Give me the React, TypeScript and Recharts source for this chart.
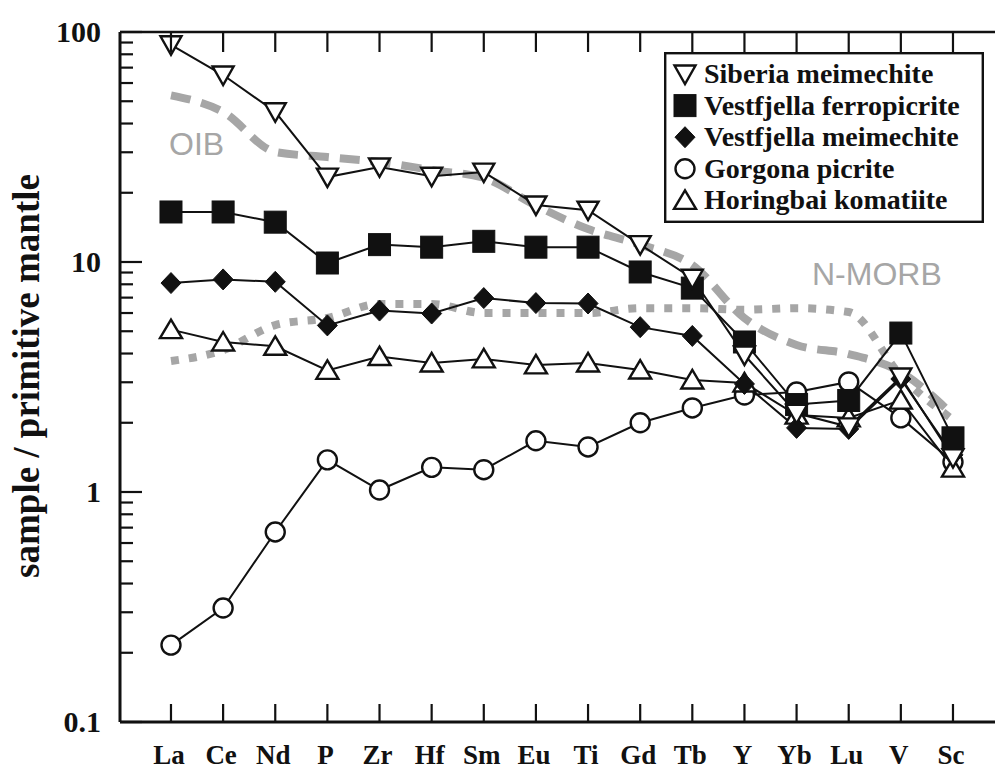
import React from 'react';
import { LineChart, Line, XAxis, YAxis, Legend } from 'recharts';

const elements = ['La', 'Ce', 'Nd', 'P', 'Zr', 'Hf', 'Sm', 'Eu', 'Ti', 'Gd', 'Tb', 'Y', 'Yb', 'Lu', 'V', 'Sc'];

const siberiaMeimechite = [88, 65, 45, 23.4, 25.9, 23.6, 24.6, 17.7, 16.8, 11.9, 8.5, 3.94, 2.2, 1.92, 3.16, 1.41];
const vestfjellaFerropicrite = [16.5, 16.5, 14.9, 9.9, 11.9, 11.6, 12.3, 11.6, 11.6, 9.05, 7.7, 4.49, 2.4, 2.5, 4.91, 1.72];
const vestfjellaMeimechite = [8.1, 8.4, 8.2, 5.3, 6.15, 5.97, 6.97, 6.63, 6.6, 5.21, 4.77, 2.95, 1.9, 1.88, 3.1, 1.45];
const gorgonaPicrite = [0.216, 0.313, 0.67, 1.38, 1.02, 1.28, 1.25, 1.67, 1.57, 2.0, 2.32, 2.64, 2.72, 3.01, 2.1, 1.35];
const horingbaiKomatiite = [5.08, 4.49, 4.3, 3.38, 3.88, 3.64, 3.79, 3.57, 3.64, 3.39, 3.07, 2.98, 2.16, 2.1, 2.51, 1.27];
const oib = [53, 44.9, 30.1, 28.6, 27.2, 25.1, 23.2, 17.6, 13.9, 11.9, 9.7, 5.7, 4.36, 3.98, 3.32, 2.16];
const nMorb = [3.71, 4.14, 5.32, 5.71, 6.57, 6.57, 6.0, 6.0, 6.0, 6.3, 6.3, 6.2, 6.3, 6.06, 3.2, 2.06];

const yMajorTicks = [0.1, 1, 10, 100];
const yMajorLabels = ['0.1', '1', '10', '100'];
const yAllTicks = [
  0.1, 0.2, 0.3, 0.4, 0.5, 0.6, 0.7, 0.8, 0.9,
  1, 2, 3, 4, 5, 6, 7, 8, 9,
  10, 20, 30, 40, 50, 60, 70, 80, 90, 100,
];
const xTicks = elements.map((_, i) => i);

const legendNames = [
  'Siberia meimechite',
  'Vestfjella ferropicrite',
  'Vestfjella meimechite',
  'Gorgona picrite',
  'Horingbai komatiite',
];
const legendShapes = ['down', 'square', 'diamond', 'circle', 'up'];

const data = elements.map((el, i) => ({
  idx: i,
  el,
  siberia: siberiaMeimechite[i],
  ferro: vestfjellaFerropicrite[i],
  meim: vestfjellaMeimechite[i],
  gorgona: gorgonaPicrite[i],
  horingbai: horingbaiKomatiite[i],
  oib: oib[i],
  nmorb: nMorb[i],
}));

const INK = '#111';
const GREY = '#a6a6a6';
const SERIF = '"Liberation Serif", "Times New Roman", serif';
const SANS = '"Liberation Sans", Arial, sans-serif';

function Marker({ shape, cx, cy }: { shape: string; cx: number; cy: number }) {
  if (shape === 'down') {
    return (
      <polygon
        points={`${cx - 10.5},${cy - 8.5} ${cx + 10.5},${cy - 8.5} ${cx},${cy + 10}`}
        fill="#fff"
        stroke={INK}
        strokeWidth={2.4}
        strokeLinejoin="miter"
      />
    );
  }
  if (shape === 'up') {
    return (
      <polygon
        points={`${cx - 11},${cy + 8.5} ${cx + 11},${cy + 8.5} ${cx},${cy - 10}`}
        fill="#fff"
        stroke={INK}
        strokeWidth={2.4}
      />
    );
  }
  if (shape === 'square') {
    return <rect x={cx - 11} y={cy - 11} width={22} height={22} fill={INK} stroke={INK} strokeWidth={1} />;
  }
  if (shape === 'diamond') {
    return (
      <polygon
        points={`${cx},${cy - 10.5} ${cx + 10},${cy} ${cx},${cy + 10.5} ${cx - 10},${cy}`}
        fill={INK}
        stroke={INK}
        strokeWidth={1}
      />
    );
  }
  return <circle cx={cx} cy={cy} r={9.5} fill="#fff" stroke={INK} strokeWidth={2.4} />;
}

const makeDot = (shape: string) => (props: any) => {
  const { cx, cy, index } = props;
  if (cx == null || cy == null) return <g key={`${shape}-${index}`} />;
  return (
    <g key={`${shape}-${index}`}>
      <Marker shape={shape} cx={cx} cy={cy} />
    </g>
  );
};

const BottomTick = (props: any) => {
  const { x, y, payload } = props;
  return (
    <g>
      <line x1={x} x2={x} y1={y} y2={y - 18} stroke={INK} strokeWidth={2.2} />
      <text
        x={x - 2}
        y={y + 42}
        textAnchor="middle"
        fontFamily={SERIF}
        fontWeight="bold"
        fontSize={27}
        fill={INK}
      >
        {elements[payload.value]}
      </text>
    </g>
  );
};

const TopTick = (props: any) => {
  const { x, y } = props;
  return <line x1={x} x2={x} y1={y} y2={y + 20} stroke={INK} strokeWidth={2.2} />;
};

const LeftTick = (props: any) => {
  const { x, y, payload } = props;
  const mi = yMajorTicks.findIndex((v) => Math.abs(v - payload.value) < 1e-9);
  const major = mi >= 0;
  return (
    <g>
      <line x1={x} x2={x + (major ? 22 : 13)} y1={y} y2={y} stroke={INK} strokeWidth={2.2} />
      {major && (
        <text
          x={101}
          y={y + 10}
          textAnchor="end"
          fontFamily={SERIF}
          fontWeight="bold"
          fontSize={30}
          fill={INK}
        >
          {yMajorLabels[mi]}
        </text>
      )}
    </g>
  );
};

const RightTick = (props: any) => {
  const { x, y, payload } = props;
  const major = yMajorTicks.some((v) => Math.abs(v - payload.value) < 1e-9);
  return <line x1={x - (major ? 12 : 4)} x2={x} y1={y} y2={y} stroke={INK} strokeWidth={2.2} />;
};

const renderLegend = () => (
  <svg width={320} height={171} style={{ display: 'block', overflow: 'visible' }}>
    <rect x={1.2} y={1.2} width={317.6} height={168.6} fill="#fff" stroke={INK} strokeWidth={2.4} />
    {legendNames.map((name, i) => {
      const cy = 22 + i * 31.6;
      return (
        <g key={name}>
          <Marker shape={legendShapes[i]} cx={21} cy={cy} />
          <text x={40} y={cy + 9} fontFamily={SERIF} fontWeight="bold" fontSize={28} fill={INK}>
            {name}
          </text>
        </g>
      );
    })}
  </svg>
);

const X_DOMAIN: [number, number] = [-0.978, 15.806];

export default function App() {
  return (
    <div style={{ position: 'absolute', left: 0, top: 0, width: 995, height: 771, background: '#fff' }}>
      <LineChart
        width={995}
        height={771}
        data={data}
        margin={{ top: 2, right: 0, bottom: 0, left: 0 }}
        style={{ background: '#fff' }}
      >
        <XAxis
          xAxisId="bottom"
          dataKey="idx"
          type="number"
          domain={X_DOMAIN}
          ticks={xTicks}
          interval={0}
          allowDataOverflow
          height={49}
          tickSize={0}
          tickMargin={0}
          tickLine={false}
          axisLine={{ stroke: INK, strokeWidth: 3 }}
          tick={BottomTick}
        />
        <XAxis
          xAxisId="top"
          orientation="top"
          dataKey="idx"
          type="number"
          domain={X_DOMAIN}
          ticks={xTicks}
          interval={0}
          allowDataOverflow
          height={30}
          tickSize={0}
          tickMargin={0}
          tickLine={false}
          axisLine={{ stroke: INK, strokeWidth: 2.6 }}
          tick={TopTick}
        />
        <YAxis
          yAxisId="left"
          scale="log"
          domain={[0.1, 100]}
          allowDataOverflow
          ticks={yAllTicks}
          interval={0}
          width={120}
          tickSize={0}
          tickMargin={0}
          tickLine={false}
          axisLine={{ stroke: INK, strokeWidth: 3 }}
          tick={LeftTick}
        />
        <YAxis
          yAxisId="right"
          orientation="right"
          scale="log"
          domain={[0.1, 100]}
          allowDataOverflow
          ticks={yAllTicks}
          interval={0}
          width={0}
          tickSize={0}
          tickMargin={0}
          tickLine={false}
          axisLine={false}
          tick={RightTick}
        />
        <Legend
          layout="vertical"
          align="center"
          verticalAlign="middle"
          content={renderLegend}
          wrapperStyle={{ position: 'absolute', left: 664, top: 52, width: 320, height: 171, right: 'auto', bottom: 'auto' }}
        />
        <Line
          xAxisId="bottom"
          yAxisId="left"
          dataKey="oib"
          name="OIB"
          type="monotone"
          stroke={GREY}
          strokeWidth={8}
          strokeDasharray="20 11"
          dot={false}
          activeDot={false}
          legendType="none"
          isAnimationActive={false}
        />
        <Line
          xAxisId="bottom"
          yAxisId="left"
          dataKey="nmorb"
          name="N-MORB"
          type="monotone"
          stroke={GREY}
          strokeWidth={8}
          strokeDasharray="8 10"
          dot={false}
          activeDot={false}
          legendType="none"
          isAnimationActive={false}
        />
        <Line
          xAxisId="bottom"
          yAxisId="left"
          dataKey="gorgona"
          name="Gorgona picrite"
          type="linear"
          stroke={INK}
          strokeWidth={2}
          dot={makeDot('circle')}
          activeDot={false}
          isAnimationActive={false}
        />
        <Line
          xAxisId="bottom"
          yAxisId="left"
          dataKey="horingbai"
          name="Horingbai komatiite"
          type="linear"
          stroke={INK}
          strokeWidth={2}
          dot={makeDot('up')}
          activeDot={false}
          isAnimationActive={false}
        />
        <Line
          xAxisId="bottom"
          yAxisId="left"
          dataKey="meim"
          name="Vestfjella meimechite"
          type="linear"
          stroke={INK}
          strokeWidth={2}
          dot={makeDot('diamond')}
          activeDot={false}
          isAnimationActive={false}
        />
        <Line
          xAxisId="bottom"
          yAxisId="left"
          dataKey="ferro"
          name="Vestfjella ferropicrite"
          type="linear"
          stroke={INK}
          strokeWidth={2}
          dot={makeDot('square')}
          activeDot={false}
          isAnimationActive={false}
        />
        <Line
          xAxisId="bottom"
          yAxisId="left"
          dataKey="siberia"
          name="Siberia meimechite"
          type="linear"
          stroke={INK}
          strokeWidth={2}
          dot={makeDot('down')}
          activeDot={false}
          isAnimationActive={false}
        />
      </LineChart>
      <svg
        width={995}
        height={771}
        style={{ position: 'absolute', left: 0, top: 0, pointerEvents: 'none' }}
      >
        <text
          transform="translate(39,376) rotate(-90)"
          textAnchor="middle"
          fontFamily={SERIF}
          fontWeight="bold"
          fontSize={37}
          fill={INK}
        >
          sample / primitive mantle
        </text>
        <text x={169} y={155} fontFamily={SANS} fontSize={32} fill={GREY}>
          OIB
        </text>
        <text x={812} y={285} fontFamily={SANS} fontSize={32} fill={GREY}>
          N-MORB
        </text>
      </svg>
    </div>
  );
}
